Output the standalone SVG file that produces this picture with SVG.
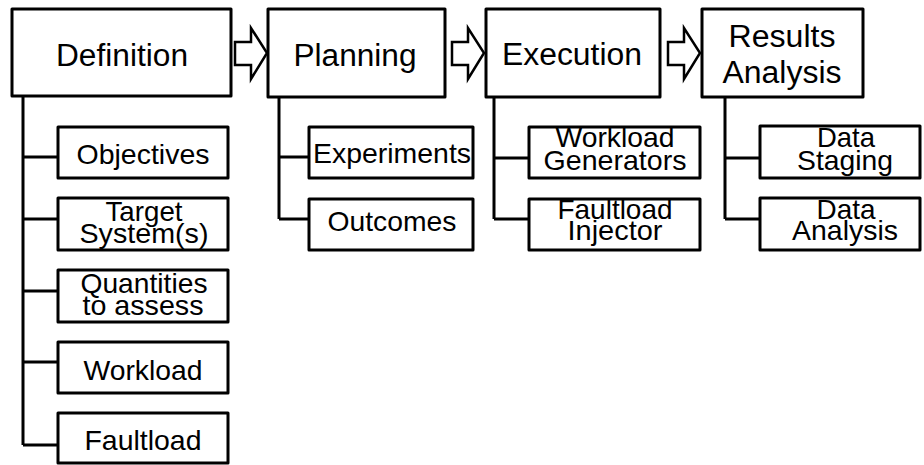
<svg xmlns="http://www.w3.org/2000/svg" width="924" height="465" viewBox="0 0 924 465">
  <style>
    .box { fill: #fff; stroke: #000; stroke-width: 3; stroke-linejoin: round; }
    .wire { fill: none; stroke: #000; stroke-width: 3; stroke-linejoin: round; }
    .step { fill: #fff; stroke: #000; stroke-width: 2.5; stroke-linejoin: miter; }
    .main { font-family: "Liberation Sans", Arial, sans-serif; font-size: 31px; fill: #000; text-anchor: middle; }
    .sub { font-family: "Liberation Sans", Arial, sans-serif; font-size: 28px; fill: #000; text-anchor: middle; }
  </style>
  <rect width="924" height="465" fill="#fff"/>

  <!-- connectors: tree branches and phase arrows -->
  <g id="connectors">
    <path class="wire" d="M23 96 V445 M23 157 H58 M23 219 H58 M23 291 H58 M23 362 H58 M23 445 H58"/>
    <path class="wire" d="M279 97 V219 M279 157 H309 M279 219 H309"/>
    <path class="wire" d="M494 97 V219 M494 158 H529 M494 219 H529"/>
    <path class="wire" d="M725 97 V219 M725 158 H760 M725 219 H760"/>
    <polygon class="step" points="235,42 251,42 251,28 267,53 251,79 251,65 235,65"/>
    <polygon class="step" points="452,42 468,42 468,28 484,53 468,79 468,65 452,65"/>
    <polygon class="step" points="668,42 684,42 684,28 700,53 684,79 684,65 668,65"/>
  </g>

  <!-- phases -->
  <g id="definition">
    <rect class="box" x="12" y="9" width="219" height="87"/>
    <text class="main" x="122" y="66" textLength="132" lengthAdjust="spacingAndGlyphs">Definition</text>
  </g>
  <g id="planning">
    <rect class="box" x="268" y="9" width="177" height="88"/>
    <text class="main" x="355" y="66" textLength="123" lengthAdjust="spacingAndGlyphs">Planning</text>
  </g>
  <g id="execution">
    <rect class="box" x="486" y="9" width="174" height="88"/>
    <text class="main" x="572" y="65" textLength="140" lengthAdjust="spacingAndGlyphs">Execution</text>
  </g>
  <g id="results-analysis">
    <rect class="box" x="702" y="9" width="161" height="88"/>
    <text class="main" x="782" y="47" textLength="107" lengthAdjust="spacingAndGlyphs">Results</text>
    <text class="main" x="782" y="83" textLength="119" lengthAdjust="spacingAndGlyphs">Analysis</text>
  </g>

  <!-- definition items -->
  <g id="objectives">
    <rect class="box" x="58" y="127" width="170" height="51"/>
    <text class="sub" x="143" y="164" textLength="133" lengthAdjust="spacingAndGlyphs">Objectives</text>
  </g>
  <g id="target-systems">
    <rect class="box" x="58" y="198" width="170" height="52"/>
    <text class="sub" x="144" y="221" textLength="77" lengthAdjust="spacingAndGlyphs">Target</text>
    <text class="sub" x="144" y="243" textLength="129" lengthAdjust="spacingAndGlyphs">System(s)</text>
  </g>
  <g id="quantities">
    <rect class="box" x="58" y="270" width="170" height="52"/>
    <text class="sub" x="144" y="293" textLength="127" lengthAdjust="spacingAndGlyphs">Quantities</text>
    <text class="sub" x="143" y="315" textLength="121" lengthAdjust="spacingAndGlyphs">to assess</text>
  </g>
  <g id="workload">
    <rect class="box" x="58" y="342" width="170" height="51"/>
    <text class="sub" x="143" y="380" textLength="119" lengthAdjust="spacingAndGlyphs">Workload</text>
  </g>
  <g id="faultload">
    <rect class="box" x="58" y="413" width="170" height="50"/>
    <text class="sub" x="143" y="450" textLength="117" lengthAdjust="spacingAndGlyphs">Faultload</text>
  </g>

  <!-- planning items -->
  <g id="experiments">
    <rect class="box" x="309" y="127" width="164" height="51"/>
    <text class="sub" x="392" y="163" textLength="158" lengthAdjust="spacingAndGlyphs">Experiments</text>
  </g>
  <g id="outcomes">
    <rect class="box" x="309" y="199" width="164" height="51"/>
    <text class="sub" x="392" y="231" textLength="129" lengthAdjust="spacingAndGlyphs">Outcomes</text>
  </g>

  <!-- execution items -->
  <g id="workload-generators">
    <rect class="box" x="529" y="127" width="171" height="51"/>
    <text class="sub" x="615" y="147" textLength="119" lengthAdjust="spacingAndGlyphs">Workload</text>
    <text class="sub" x="615" y="170" textLength="143" lengthAdjust="spacingAndGlyphs">Generators</text>
  </g>
  <g id="faultload-injector">
    <rect class="box" x="529" y="199" width="171" height="51"/>
    <text class="sub" x="615" y="219" textLength="115" lengthAdjust="spacingAndGlyphs">Faultload</text>
    <text class="sub" x="615" y="240" textLength="95" lengthAdjust="spacingAndGlyphs">Injector</text>
  </g>

  <!-- analysis items -->
  <g id="data-staging">
    <rect class="box" x="760" y="126" width="160" height="52"/>
    <text class="sub" x="846" y="147" textLength="58" lengthAdjust="spacingAndGlyphs">Data</text>
    <text class="sub" x="845" y="170" textLength="96" lengthAdjust="spacingAndGlyphs">Staging</text>
  </g>
  <g id="data-analysis">
    <rect class="box" x="760" y="198" width="160" height="52"/>
    <text class="sub" x="846" y="219" textLength="59" lengthAdjust="spacingAndGlyphs">Data</text>
    <text class="sub" x="845" y="240" textLength="106" lengthAdjust="spacingAndGlyphs">Analysis</text>
  </g>
</svg>
